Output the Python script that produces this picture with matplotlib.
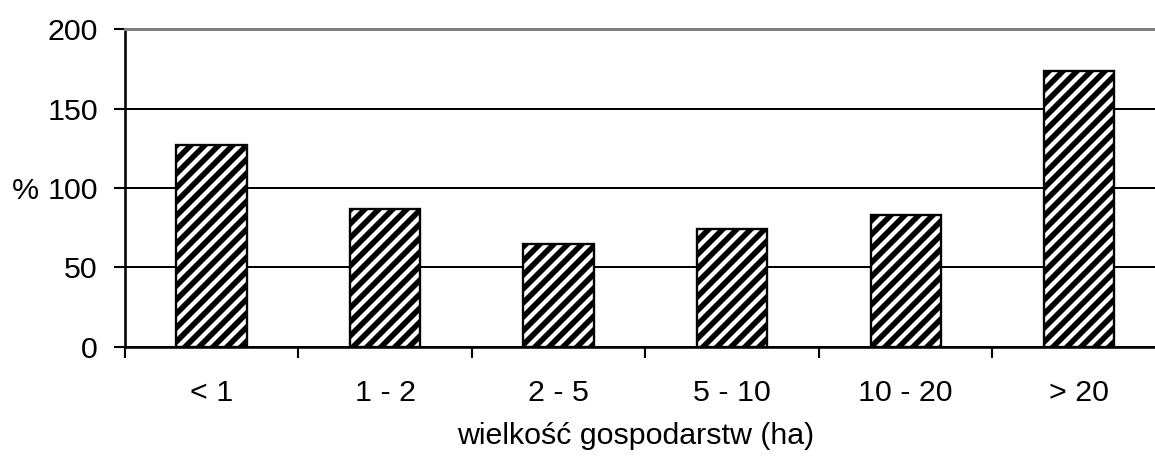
import matplotlib

matplotlib.use("Agg")
import matplotlib.pyplot as plt  # noqa: E402
import matplotlib.transforms as mtransforms  # noqa: E402
import numpy as np  # noqa: E402

# data
categories = ["< 1", "1 - 2", "2 - 5", "5 - 10", "10 - 20", "> 20"]
percent = [127, 87, 64.5, 74, 83, 173.5]
y_ticks = [0, 50, 100, 150, 200]
x_label = "wielkość gospodarstw (ha)"
y_label = "%"

DPI = 84  # hatch density is tied to dpi, 84 gives the stripe spacing of the original
W, H = 1155, 462

plt.rcParams["font.family"] = ["Liberation Sans", "DejaVu Sans"]
plt.rcParams["font.size"] = 26
plt.rcParams["hatch.linewidth"] = 4.8
plt.rcParams["hatch.color"] = "black"

fig = plt.figure(figsize=(W / DPI, H / DPI), dpi=DPI)
# the plot area runs a little past the right edge, as in the original
ax = fig.add_axes([124.7 / W, 115.3 / H, (1166 - 124.7) / W, 317.5 / H])

x = np.arange(len(categories))
ax.bar(x, percent, width=0.405, color="white", edgecolor="black",
       linewidth=2.0, hatch="//", zorder=3)

ax.set_xlim(-0.5, len(categories) - 0.5)
ax.set_ylim(0, 200)
ax.set_yticks(y_ticks)
ax.yaxis.grid(True, color="black", linewidth=1.7)
ax.set_axisbelow(True)

# boundary ticks between categories, labels sit on hidden minor ticks
ax.set_xticks(np.arange(len(categories) + 1) - 0.5)
ax.set_xticklabels([])
ax.set_xticks(x, minor=True)
ax.set_xticklabels(categories, minor=True)
ax.tick_params(axis="x", which="major", direction="out", length=9.5, width=1.8)
ax.tick_params(axis="x", which="minor", length=0, pad=28)
ax.tick_params(axis="y", direction="out", length=9.5, width=1.8, pad=13.5)

for side in ("left", "bottom"):
    ax.spines[side].set_linewidth(2.2)
    ax.spines[side].set_color("black")
ax.spines["top"].set_color("#808080")
ax.spines["top"].set_linewidth(2.6)
ax.spines["right"].set_visible(False)

ax.set_xlabel(x_label)
ax.xaxis.set_label_coords(0.491, -0.238)
ax.xaxis.label.set_va("top")
trans = mtransforms.blended_transform_factory(fig.transFigure, ax.transData)
ax.text(12 / W, 100, y_label, transform=trans, ha="left", va="center_baseline")

fig.savefig("out.png", dpi=DPI)
